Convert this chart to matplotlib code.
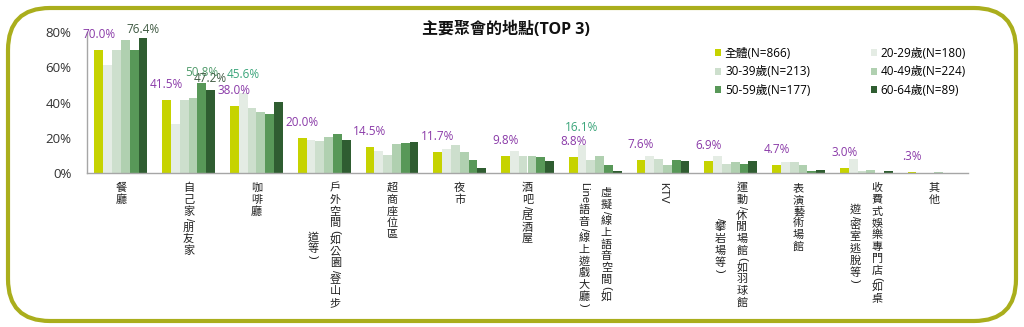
import matplotlib
matplotlib.use('Agg')
import matplotlib.pyplot as plt
from matplotlib.patches import FancyBboxPatch, Patch
from matplotlib.transforms import IdentityTransform
import numpy as np

# ---------------- data ----------------
categories = ['餐廳', '自己家/朋友家', '咖啡廳', '戶外空間(如公園/登山步\n道等)', '超商座位區', '夜市',
              '酒吧/居酒屋', '虛擬/線上語音空間(如\nLine語音/線上遊戲大廳)', 'KTV',
              '運動/休閒場館(如羽球館\n/攀岩場等)', '表演藝術場館', '收費式娛樂專門店(如桌\n遊/密室逃脫等)', '其他']
series_names = ['全體(N=866)', '20-29歲(N=180)', '30-39歲(N=213)', '40-49歲(N=224)', '50-59歲(N=177)', '60-64歲(N=89)']
total = [70.0, 41.5, 38.0, 20.0, 14.5, 11.7, 9.8, 8.8, 7.6, 6.9, 4.7, 3.0, 0.3]
age_20_29 = [61.3, 27.8, 45.6, 18.5, 12.3, 13.4, 12.7, 16.1, 9.8, 9.5, 6.2, 7.9, 0.0]
age_30_39 = [70.0, 41.2, 36.9, 18.0, 10.4, 15.9, 9.5, 7.2, 7.9, 5.3, 6.0, 0.9, 0.0]
age_40_49 = [75.5, 42.5, 34.6, 20.4, 16.3, 11.7, 9.5, 9.8, 4.7, 6.2, 4.7, 1.7, 0.5]
age_50_59 = [70.0, 50.8, 33.7, 22.3, 16.8, 7.6, 9.3, 4.5, 7.6, 5.3, 1.3, 0.0, 0.0]
age_60_64 = [76.4, 47.2, 40.3, 18.5, 17.8, 2.8, 6.6, 0.9, 6.6, 6.6, 1.7, 1.1, 0.0]
total_labels = ['70.0%', '41.5%', '38.0%', '20.0%', '14.5%', '11.7%', '9.8%', '8.8%', '7.6%', '6.9%', '4.7%', '3.0%', '.3%']
# highlighted maxima: (series index, category index, label)
highlights = [(5, 0, '76.4%'), (4, 1, '50.8%'), (5, 1, '47.2%'), (1, 2, '45.6%'), (1, 7, '16.1%')]
yticks = [0, 20, 40, 60, 80]

series = [total, age_20_29, age_30_39, age_40_49, age_50_59, age_60_64]
colors = ['#c6d300', '#e4ece4', '#cddfcd', '#b0d0b0', '#589858', '#2f5d31']
hl_colors = {0: '#3f5a42', 1: '#4f9a6a', 2: '#3aa57a'}
PURPLE = '#8a3aa8'

LAT = ['Open Sans', 'Noto Sans CJK TC']
LAB = ['Liberation Sans', 'Noto Sans CJK TC']

W, H = 1024, 327
fig = plt.figure(figsize=(W / 100, H / 100), dpi=100)
ax = fig.add_axes([87 / W, 1 - 173 / H, (968 - 87) / W, (173 - 32) / H])

n = len(categories)
x = np.arange(n)
bw = 0.13
for i, vals in enumerate(series):
    ax.bar(x + (i - 2.5) * bw, vals, width=bw, color=colors[i], label=series_names[i], zorder=2)

ax.set_xlim(-0.5, n - 0.5)
ax.set_ylim(0, 80)
ax.set_yticks(yticks)
ax.set_yticklabels([f'{v}%' for v in yticks], family=LAT, fontsize=9.5, color='#333333')
ax.set_xticks([])
ax.tick_params(axis='y', length=0, pad=11)
for s in ['top', 'right']:
    ax.spines[s].set_visible(False)
for s in ['left', 'bottom']:
    ax.spines[s].set_color('#a6a6a6')
    ax.spines[s].set_linewidth(1)

# total labels
for i, (v, lab) in enumerate(zip(total, total_labels)):
    ax.annotate(lab, xy=(x[i] - 2.5 * bw, v), xytext=(0, 9), textcoords='offset pixels',
                ha='center', va='bottom', color=PURPLE, fontsize=8.5, family=LAT, annotation_clip=False)
hl_off = {'76.4%': 2, '50.8%': 4, '47.2%': 5, '45.6%': 12, '16.1%': 11}
for si, ci, lab in highlights:
    v = series[si][ci]
    col = hl_colors[0] if si == 5 else (hl_colors[1] if si == 4 else hl_colors[2])
    ax.annotate(lab, xy=(x[ci] + (si - 2.5) * bw, v), xytext=(0, hl_off[lab]), textcoords='offset pixels',
                ha='center', va='bottom', color=col, fontsize=8.5, family=LAT, annotation_clip=False)

# vertical (East-Asian style) category labels
renderer = fig.canvas.get_renderer()
FS = 8
CJK_PITCH = 11.8
COL_GAP = 22
TOP = 9


def tokens(s):
    out, run = [], ''
    for ch in s:
        if ch.isascii() and ch.isalnum():
            run += ch
            continue
        if run:
            out.append(run)
            run = ''
        out.append(ch)
    if run:
        out.append(run)
    return out


def advance(tok):
    if not tok.isascii():
        return CJK_PITCH, 0
    t = fig.text(0, 0, tok, fontsize=FS, family=LAB)
    w = t.get_window_extent(renderer).width
    t.remove()
    return w + 1.0, -90


for i, lab in enumerate(categories):
    cols = lab.split('\n')
    info = []
    for c in cols:
        toks = [(t,) + advance(t) for t in tokens(c)]
        info.append(toks)
    lens = [sum(a for _, a, _ in toks) for toks in info]
    Hb = max(lens)
    nc = len(cols)
    for j, toks in enumerate(info):
        xo = ((nc - 1) / 2 - j) * COL_GAP
        y = TOP + (Hb - lens[j]) / 2
        for tok, adv, rot in toks:
            ax.annotate(tok, xy=(x[i], 0), xycoords=('data', 'axes fraction'),
                        xytext=(xo, -(y + adv / 2)), textcoords='offset pixels',
                        ha='center', va='center', rotation=rot, fontsize=FS, family=LAB,
                        color='#222222', annotation_clip=False)
            y += adv

# title
fig.text(506 / W, 1 - 30 / H, '主要聚會的地點(TOP 3)', ha='center', va='center',
         fontsize=11.5, fontweight='bold', family=LAT, color='#111111')

# legend
handles = [Patch(facecolor=colors[i], edgecolor='none', label=series_names[i]) for i in range(6)]
order = [0, 2, 4, 1, 3, 5]
fig.legend([handles[k] for k in order], [series_names[k] for k in order], ncol=2,
           loc='upper left', bbox_to_anchor=(715 / W, 1 - 47 / H), frameon=False,
           prop={'family': LAT, 'size': 8.5}, handlelength=0.55, handleheight=0.55,
           handletextpad=0.3, columnspacing=5.1, labelspacing=0.45, borderpad=0, borderaxespad=0)

# rounded border
border = FancyBboxPatch((8, 6), W - 16, H - 14, boxstyle='round,pad=0,rounding_size=42',
                        transform=IdentityTransform(), facecolor='none', edgecolor='#aaae1c',
                        linewidth=3.0, zorder=10)
fig.patches.append(border)

fig.savefig('out.png', dpi=100)
